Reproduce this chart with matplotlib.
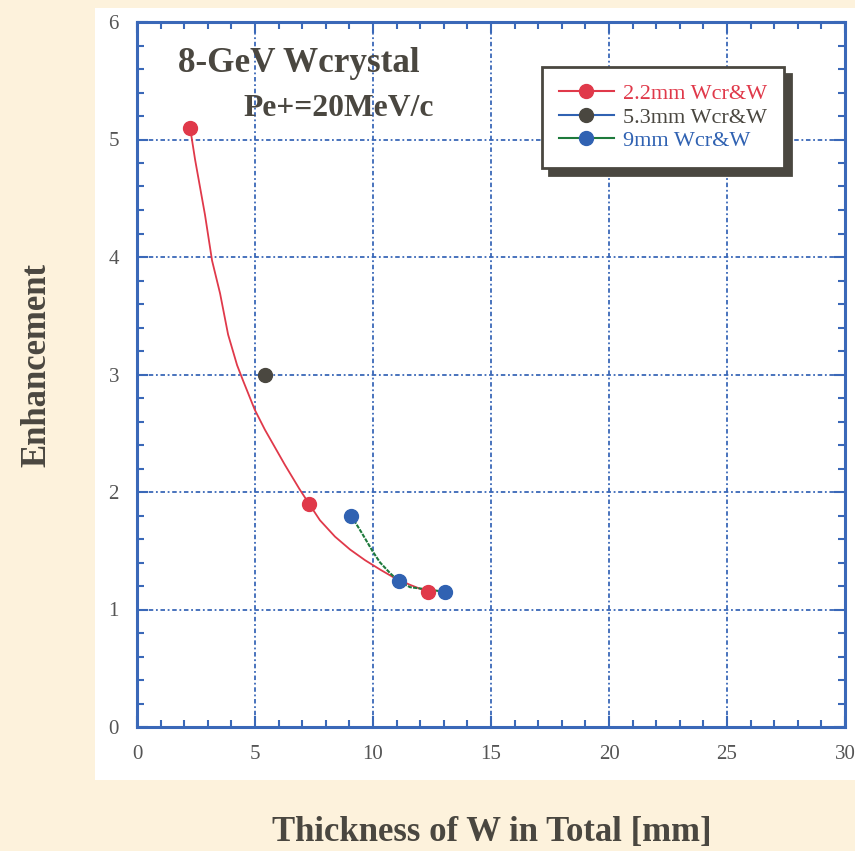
import matplotlib
matplotlib.use("Agg")
import matplotlib.pyplot as plt
from matplotlib.patches import Rectangle
from matplotlib.ticker import MultipleLocator

# ---- data ----
red_curve_x = [2.25, 2.46, 2.88, 3.18, 3.52, 3.86, 4.24, 4.49, 4.99, 5.42, 6.27, 6.9, 7.29,
               7.75, 8.39, 9.03, 9.66, 10.3, 10.9, 11.57, 12.33]
red_curve_y = [5.10, 4.83, 4.36, 3.97, 3.69, 3.34, 3.08, 2.95, 2.70, 2.53, 2.23, 2.02, 1.90,
               1.76, 1.62, 1.51, 1.42, 1.34, 1.27, 1.21, 1.15]
green_curve_x = [9.07, 9.53, 10.0, 10.3, 10.72, 11.1, 11.57, 12.33, 13.05]
green_curve_y = [1.80, 1.65, 1.49, 1.40, 1.31, 1.24, 1.19, 1.17, 1.15]

red_pts_x = [2.25, 7.29, 12.33]
red_pts_y = [5.10, 1.90, 1.15]
black_pts_x = [5.42]
black_pts_y = [3.00]
blue_pts_x = [9.07, 11.1, 13.05]
blue_pts_y = [1.80, 1.24, 1.15]

labels = ["2.2mm Wcr&W", "5.3mm Wcr&W", "9mm Wcr&W"]

RED = "#E0394A"
DARK = "#4A4740"
BLUE = "#3062B2"
GREEN = "#1E7A3C"
AXBLUE = "#3A68B8"
CREAM = "#FDF2DC"

plt.rcParams['font.family'] = ['Liberation Serif', 'DejaVu Serif']

fig = plt.figure(figsize=(8.55, 8.51), dpi=100, facecolor=CREAM)
# white panel
fig.patches.append(Rectangle((95/855, 1-780/851), (855-95)/855, (780-8)/851,
                             transform=fig.transFigure, facecolor="white", edgecolor="none", zorder=-5))

ax = fig.add_axes([137/855, 1-727/851, (845-137)/855, (727-22)/851])
ax.set_zorder(2)
ax.set_facecolor("white")
ax.set_xlim(0, 30)
ax.set_ylim(0, 6)
ax.xaxis.set_major_locator(MultipleLocator(5))
ax.xaxis.set_minor_locator(MultipleLocator(1))
ax.yaxis.set_major_locator(MultipleLocator(1))
ax.yaxis.set_minor_locator(MultipleLocator(0.2))
for s in ax.spines.values():
    s.set_color(AXBLUE)
    s.set_linewidth(2.2)
ax.tick_params(which='both', direction='in', color=AXBLUE, top=True, right=True, width=1.5)
ax.tick_params(which='major', length=8, labelsize=15, labelcolor="#555555", pad=13)
ax.tick_params(which='minor', length=5)
ax.grid(True, which='major', color=AXBLUE, linestyle=(0, (2.5, 1.5, 1, 1.5)), linewidth=1.3)

# curves
ax.plot(red_curve_x, red_curve_y, color=RED, lw=1.3, zorder=3)
ax.plot(green_curve_x, green_curve_y, color=GREEN, lw=1.5, linestyle=(0, (2, 0.6)), zorder=3)

# markers
ax.plot(red_pts_x, red_pts_y, 'o', color=RED, ms=10, zorder=5)
ax.plot(black_pts_x, black_pts_y, 'o', color=DARK, ms=10, zorder=5)
ax.plot(blue_pts_x, blue_pts_y, 'o', color=BLUE, ms=10, zorder=5)

# legend handles
h1, = ax.plot([], [], '-o', color=RED, mfc=RED, mec=RED, ms=10, lw=1.5)
h2, = ax.plot([], [], '-o', color=BLUE, mfc=DARK, mec=DARK, ms=10, lw=1.5)
h3, = ax.plot([], [], '-o', color=GREEN, mfc=BLUE, mec=BLUE, ms=10, lw=1.5)
leg = ax.legend([h1, h2, h3], labels, loc='upper left',
                bbox_to_anchor=((542-137)/708, 1-(67-22)/705),
                frameon=True, fancybox=False, edgecolor=DARK, fontsize=16,
                handlelength=2.5, handletextpad=0.4, labelspacing=0.13,
                borderpad=0.75, borderaxespad=0.0,
                shadow={'color': DARK, 'alpha': 1.0, 'ox': 5, 'oy': -5})
leg.get_frame().set_linewidth(2)
for t, c in zip(leg.get_texts(), [RED, DARK, BLUE]):
    t.set_color(c)

# title texts
ax.text((178-137)/708, 1-(63-22)/705, "8-GeV Wcrystal", transform=ax.transAxes,
        fontsize=25.3, fontweight='bold', color=DARK, ha='left', va='center')
ax.text((243-137)/708, 1-(108-22)/705, "Pe+=20MeV/c", transform=ax.transAxes,
        fontsize=22.7, fontweight='bold', color=DARK, ha='left', va='center')

fig.text(37/855, 1-365/851, "Enhancement", rotation=90, fontsize=25, fontweight='bold',
         color=DARK, ha='center', va='center')
fig.text(492/855, 1-832/851, "Thickness of W in Total [mm]", fontsize=25, fontweight='bold',
         color=DARK, ha='center', va='center')

fig.savefig("out.png", dpi=100, facecolor=CREAM)
